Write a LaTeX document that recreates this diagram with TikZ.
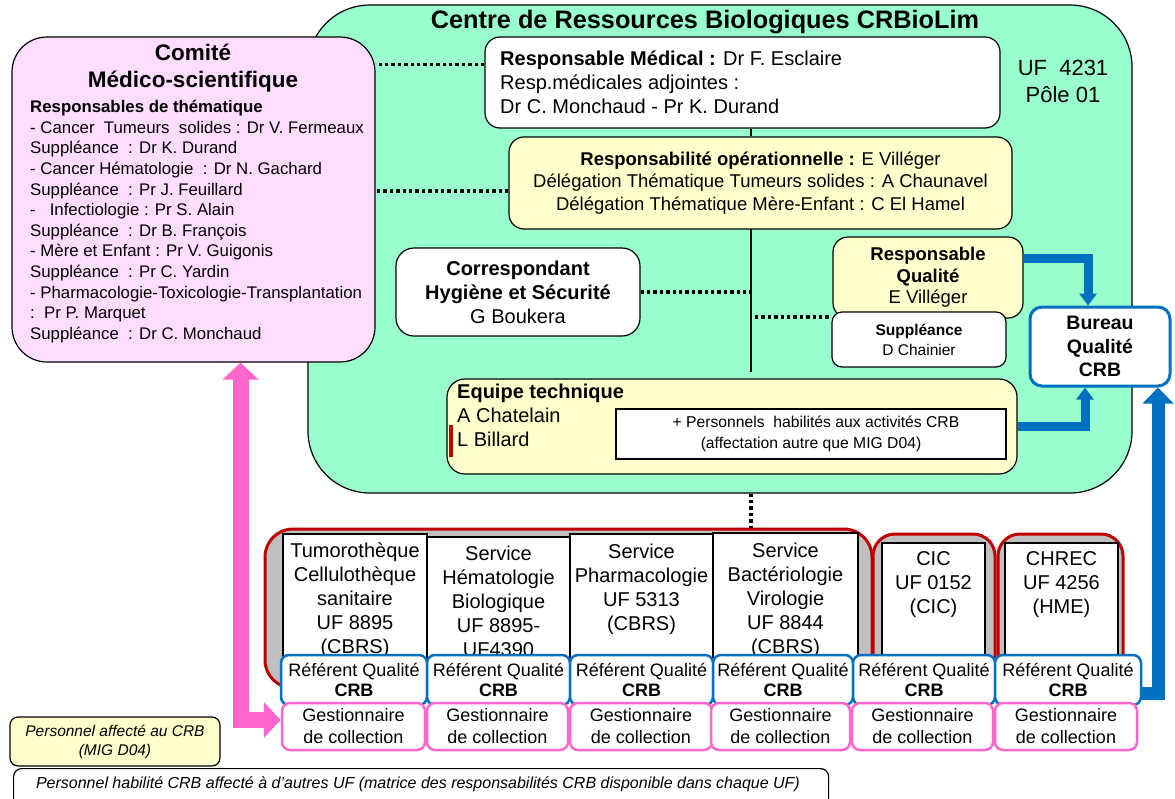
\documentclass[tikz,border=0pt]{standalone}
\usepackage{fontspec}
\setmainfont{Liberation Sans}
\usetikzlibrary{arrows.meta,calc}
\definecolor{mint}{HTML}{99FFCC}
\definecolor{pinkbg}{HTML}{FFDDFF}
\definecolor{yel}{HTML}{FFFFCC}
\definecolor{qblue}{HTML}{0070C0}
\definecolor{pinkln}{HTML}{FF66CC}
\definecolor{redb}{HTML}{C00000}
\definecolor{greyf}{HTML}{C0C0C0}
\newcommand\fsz[2]{\fontsize{#1}{#2}\selectfont}
\begin{document}
\begin{tikzpicture}[x=1pt,y=-1pt,
  box/.style={draw=black,line width=1.2pt,inner sep=0pt,rounded corners=#1},
  box/.default=15pt,
  grp/.style={draw=redb,line width=3pt,fill=greyf,inner sep=0pt,rounded corners=#1},
  unitbox/.style={draw=black,line width=1.2pt,fill=white,inner sep=0pt},
  unittext/.style={font=\fsz{20}{24},align=center,inner sep=0pt},
  refbox/.style={draw=qblue,line width=2.5pt,fill=white,rounded corners=8pt,inner sep=0pt,minimum height=50pt,font=\fsz{18}{20.5},align=center},
  gestbox/.style={draw=pinkln,line width=2.5pt,fill=white,rounded corners=8pt,inner sep=0pt,minimum height=47pt,font=\fsz{18}{22},align=center},
  dotline/.style={line width=3.6pt,dash pattern=on 3.4pt off 3pt,black},
  solidline/.style={line width=1.2pt,black},
  bluearrow/.style={qblue,line width=9pt,-{Triangle[width=17pt,length=12pt]}},
]
\useasboundingbox (0,0) rectangle (1175,798);

% big green container
\node[box=62pt, fill=mint, minimum width=824pt, minimum height=488pt] (green) at (720,249) {};
\node[font=\bfseries\fsz{25.3}{28}, inner sep=0pt] (title) at (705,22) {Centre de Ressources Biologiques CRBioLim};
\node[font=\fsz{22}{27}, align=center, inner sep=0pt] (uf) at (1063,81.5) {UF\ \ 4231\\Pôle 01};

% committee
\node[box=35pt, fill=pinkbg, minimum width=363pt, minimum height=325pt] (comite) at (193.5,199.5) {};
\node[font=\bfseries\fsz{22.5}{27}, align=center, inner sep=0pt] (comt) at (193,68.5) {Comité\\Médico-scientifique};
\node[font=\fsz{16.8}{20.6}, align=left, anchor=west, inner sep=0pt] (comb) at (30,221.5) {\textbf{Responsables de thématique}\\- Cancer\ \ Tumeurs\ \ solides : Dr V. Fermeaux\\Suppléance\ \ : Dr K. Durand\\- Cancer Hématologie\ \ : Dr N. Gachard\\Suppléance\ \ : Pr J. Feuillard\\-\ \ \ Infectiologie : Pr S. Alain\\Suppléance\ \ : Dr B. François\\- Mère et Enfant : Pr V. Guigonis\\Suppléance\ \ : Pr C. Yardin\\- Pharmacologie-Toxicologie-Transplantation\\:\ \ Pr P. Marquet\\Suppléance\ \ : Dr C. Monchaud};

% responsable medical
\node[box=15pt, fill=white, minimum width=515pt, minimum height=91pt] (rm) at (742.5,82.5) {};
\node[font=\fsz{20}{24}, align=left, anchor=west, inner sep=0pt] (rmt) at (500,82) {\textbf{Responsable Médical :} Dr F. Esclaire\\Resp.médicales adjointes :\\Dr C. Monchaud - Pr K. Durand};

% responsabilite operationnelle
\node[box=15pt, fill=yel, minimum width=503pt, minimum height=92pt, font=\fsz{18.5}{22.5}, align=center] (ro) at (760.5,183) {\textbf{Responsabilité opérationnelle :} E Villéger\\Délégation Thématique Tumeurs solides : A Chaunavel\\Délégation Thématique Mère-Enfant : C El Hamel};

% correspondant
\node[box=18pt, fill=white, minimum width=244pt, minimum height=88pt, font=\fsz{20}{24}, align=center] (corr) at (518,292) {\textbf{Correspondant}\\\textbf{Hygiène et Sécurité}\\G Boukera};

% responsable qualite + suppleance
\node[box=15pt, fill=yel, minimum width=190pt, minimum height=81pt, font=\fsz{18.5}{21.5}, align=center] (rq) at (928,277.5) {\textbf{Responsable}\\\textbf{Qualité}\\E Villéger};
\node[box=10pt, fill=white, minimum width=174pt, minimum height=55pt, font=\fsz{15.5}{20}, align=center] (supp) at (919,339.5) {\textbf{Suppléance}\\D Chainier};

% bureau qualite
\node[draw=qblue, line width=3pt, rounded corners=12pt, inner sep=0pt, fill=white, minimum width=140pt, minimum height=79pt, font=\bfseries\fsz{19.5}{23.5}, align=center] (bq) at (1100,346.5) {Bureau\\Qualité\\CRB};

% equipe technique
\node[box=18pt, fill=yel, minimum width=570pt, minimum height=95pt] (et) at (732,426.5) {};
\node[font=\fsz{20}{24}, align=left, anchor=west, inner sep=0pt] (ett) at (457,415) {\textbf{Equipe technique}\\A Chatelain\\L Billard};
\node[draw=black, line width=1.2pt, fill=white, inner sep=0pt, minimum width=390pt, minimum height=50pt, font=\fsz{15.7}{21}, align=center] (pers) at (811,434) {\hspace*{10pt}+ Personnels\ \ habilités aux activités CRB\\(affectation autre que MIG D04)};
\fill[redb] (449,425) rectangle (453,457);

% internal connectors
\coordinate (vt) at (751,229);
\coordinate (vb) at (751,372);
\draw[solidline] (rm.south -| vt) -- (ro.north -| vt);
\draw[solidline] (vt) -- (vb);
\path ([yshift=18pt]rm.west) coordinate (d1);
\draw[dotline] (d1) -- (d1 -| comite.east);
\path ([yshift=-8pt]ro.west) coordinate (d2);
\draw[dotline] (d2) -- (d2 -| comite.east);
\draw[dotline] (corr.east) -- (corr.east -| vt);
\coordinate (d4) at (755,317);
\draw[dotline] (d4) -- (d4 -| supp.west);

% bottom groups
\node[grp=28pt, minimum width=607pt, minimum height=159pt] (g1) at (568.5,608.5) {};
\node[grp=22pt, minimum width=122pt, minimum height=154pt] (g2) at (934,611) {};
\node[grp=22pt, minimum width=125pt, minimum height=154pt] (g3) at (1060.5,611) {};
\draw[dotline] (vb |- green.south) -- (vb |- g1.north);

\node[unitbox, minimum width=144pt, minimum height=146pt] (u1) at (355,607) {};
\node[unitbox, minimum width=143pt, minimum height=143pt] (u2) at (498.5,608.5) {};
\node[unitbox, minimum width=143pt, minimum height=146pt] (u3) at (641.5,607) {};
\node[unitbox, minimum width=145pt, minimum height=147pt] (u4) at (785.5,606.5) {};
\node[unitbox, minimum width=103pt, minimum height=137pt] (u5) at (933.5,611.5) {};
\node[unitbox, minimum width=113pt, minimum height=137pt] (u6) at (1061.5,611.5) {};

\node[unittext] (t1) at (355,600) {Tumorothèque\\Cellulothèque\\sanitaire\\UF 8895\\(CBRS)};
\node[unittext] (t2) at (498.5,601.5) {Service\\Hématologie\\Biologique\\UF 8895-\\UF4390};
\node[unittext] (t3) at (641.5,589) {Service\\Pharmacologie\\UF 5313\\(CBRS)};
\node[unittext] (t4) at (785.5,600) {Service\\Bactériologie\\Virologie\\UF 8844\\(CBRS)};
\node[unittext] (t5) at (933.5,585) {CIC\\UF 0152\\(CIC)};
\node[unittext] (t6) at (1061.5,585) {CHREC\\UF 4256\\(HME)};

\node[refbox, minimum width=146pt] (r1) at (354,680) {Référent Qualité\\\textbf{CRB}};
\node[refbox, minimum width=143pt] (r2) at (498.5,680) {Référent Qualité\\\textbf{CRB}};
\node[refbox, minimum width=143pt] (r3) at (641.5,680) {Référent Qualité\\\textbf{CRB}};
\node[refbox, minimum width=140pt] (r4) at (783,680) {Référent Qualité\\\textbf{CRB}};
\node[refbox, minimum width=142pt] (r5) at (924,680) {Référent Qualité\\\textbf{CRB}};
\node[refbox, minimum width=146pt] (r6) at (1068,680) {Référent Qualité\\\textbf{CRB}};

\node[gestbox, minimum width=143pt] (ge1) at (353.5,726.5) {Gestionnaire\\de collection};
\node[gestbox, minimum width=141pt] (ge2) at (497.5,726.5) {Gestionnaire\\de collection};
\node[gestbox, minimum width=142pt] (ge3) at (641,726.5) {Gestionnaire\\de collection};
\node[gestbox, minimum width=139pt] (ge4) at (780.5,726.5) {Gestionnaire\\de collection};
\node[gestbox, minimum width=141pt] (ge5) at (922.5,726.5) {Gestionnaire\\de collection};
\node[gestbox, minimum width=142pt] (ge6) at (1066,726.5) {Gestionnaire\\de collection};

% arrows
\draw[bluearrow] ([yshift=19.5pt]rq.east) -| ([xshift=-12pt]bq.north);
\draw[bluearrow] (et.east) -| ([xshift=-15pt]bq.south);
\draw[qblue, line width=13pt, -{Triangle[width=30pt,length=16pt]}] ([yshift=-13pt]r6.east) -| ([xshift=58pt]bq.south);
\draw[pinkln, line width=16pt, {Triangle[width=35pt,length=17pt]}-{Triangle[width=35pt,length=17pt]}] ([xshift=47pt]comite.south) |- ([yshift=6.5pt]ge1.west);

% legend
\node[draw=black, line width=1.2pt, rounded corners=8pt, inner sep=0pt, fill=yel, minimum width=210pt, minimum height=49pt, font=\itshape\fsz{15.5}{19}, align=center] (leg1) at (115,741.5) {Personnel affecté au CRB\\(MIG D04)};
\node[draw=black, line width=1.2pt, rounded corners=8pt, inner sep=0pt, fill=white, minimum width=815pt, minimum height=42pt, anchor=north west] (leg2) at (13,768) {};
\node[font=\itshape\fsz{16}{19}, inner sep=0pt] (leg2t) at (418,784) {Personnel habilité CRB affecté à d’autres UF (matrice des responsabilités CRB disponible dans chaque UF)};
\end{tikzpicture}
\end{document}
